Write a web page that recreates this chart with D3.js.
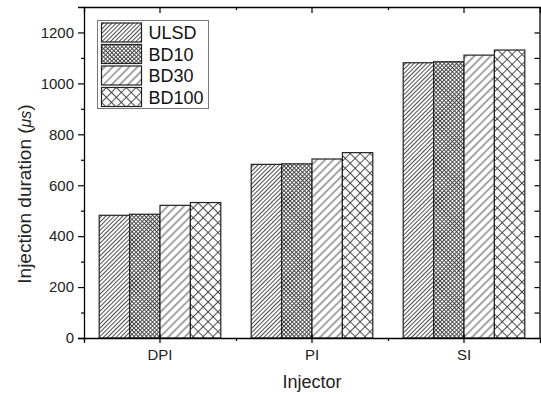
<!DOCTYPE html>
<html>
<head>
<meta charset="utf-8">
<script src="https://cdn.jsdelivr.net/npm/d3@7/dist/d3.min.js"></script>
<style>
  html, body { margin: 0; padding: 0; background: #fff; }
  svg { display: block; font-family: "Liberation Sans", Arial, sans-serif; }
</style>
</head>
<body>
<svg id="chart" width="541" height="395"></svg>
<script>
// Injection duration per injector type and fuel blend
const injectors = ["DPI", "PI", "SI"];
const fuels = ["ULSD", "BD10", "BD30", "BD100"];
const ulsd  = [482, 682, 1081];
const bd10  = [486, 684, 1085];
const bd30  = [521, 703, 1111];
const bd100 = [532, 728, 1131];
const yTicks = [0, 200, 400, 600, 800, 1000, 1200];
const yMinorTicks = [100, 300, 500, 700, 900, 1100];

const seriesValues = [ulsd, bd10, bd30, bd100];
const rows = injectors.map((inj, i) => ({
  injector: inj,
  values: fuels.map((f, k) => ({ fuel: f, value: seriesValues[k][i] }))
}));

const svg = d3.select("#chart");
const margin = { left: 84, right: 1, top: 7, bottom: 57 };
const W = 541, H = 395;
const x0 = margin.left, x1 = W - margin.right;
const yBase = H - margin.bottom, yTop = margin.top;

// Hatch fills, one per fuel
const defs = svg.append("defs");
function hatch(id, period, crossed) {
  const p = defs.append("pattern")
    .attr("id", id)
    .attr("patternUnits", "userSpaceOnUse")
    .attr("width", period).attr("height", period)
    .attr("patternTransform", "rotate(45)");
  p.append("rect").attr("width", period).attr("height", period).attr("fill", "#fff");
  p.append("line").attr("x1", period / 2).attr("x2", period / 2)
    .attr("y1", 0).attr("y2", period)
    .attr("stroke", "#3a3a3a").attr("stroke-width", 0.9);
  if (crossed) {
    p.append("line").attr("y1", period / 2).attr("y2", period / 2)
      .attr("x1", 0).attr("x2", period)
      .attr("stroke", "#3a3a3a").attr("stroke-width", 0.9);
  }
}
hatch("fill-ULSD", 3.0, false);
hatch("fill-BD10", 2.9, true);
hatch("fill-BD30", 5.8, false);
hatch("fill-BD100", 7.0, true);

const x = d3.scaleBand().domain(injectors).range([x0, x1])
  .paddingInner(0.2).paddingOuter(0.1);
const xs = d3.scaleBand().domain(fuels).range([0, x.bandwidth()]);
const xl = d3.scaleLinear().domain([0.5, injectors.length + 0.5]).range([x0, x1]);
const y = d3.scaleLinear().domain([0, 1300]).range([yBase, yTop]);

// Bars
const groups = svg.append("g").selectAll("g").data(rows).join("g")
  .attr("transform", d => `translate(${x(d.injector)},0)`);
groups.selectAll("rect").data(d => d.values).join("rect")
  .attr("x", d => xs(d.fuel))
  .attr("width", xs.bandwidth())
  .attr("y", d => y(d.value))
  .attr("height", d => y(0) - y(d.value))
  .attr("fill", d => `url(#fill-${d.fuel})`)
  .attr("stroke", "#222").attr("stroke-width", 1.2);

// Axes
const axisStyle = g => {
  g.selectAll(".domain").attr("stroke", "#000").attr("stroke-width", 1.3);
  g.selectAll(".tick line").attr("stroke", "#000").attr("stroke-width", 1.2);
  g.selectAll(".tick text").attr("fill", "#222").style("font-size", "15px")
    .style("font-family", "'Liberation Sans', Arial, sans-serif");
};
const minorPos = [1.5, 2.5];

// left
svg.append("g").attr("transform", `translate(${x0},0)`)
  .call(d3.axisLeft(y).tickValues(yTicks).tickSize(6).tickPadding(4).tickFormat(d3.format("d")))
  .call(axisStyle);
svg.append("g").attr("transform", `translate(${x0},0)`)
  .call(d3.axisLeft(y).tickValues(yMinorTicks).tickSize(3).tickFormat(""))
  .call(g => g.select(".domain").remove()).call(axisStyle);
// right
svg.append("g").attr("transform", `translate(${x1 - 0.5},0)`)
  .call(d3.axisLeft(y).tickValues(yTicks).tickSize(-0).tickFormat(""))
  .call(axisStyle);
svg.append("g").attr("transform", `translate(${x1 - 0.5},0)`)
  .call(d3.axisRight(y).tickValues(yTicks.concat(yMinorTicks)).tickSize(-5).tickFormat(""))
  .call(g => g.select(".domain").remove()).call(axisStyle);
// bottom
svg.append("g").attr("transform", `translate(0,${yBase})`)
  .call(d3.axisBottom(x).tickSize(5).tickPadding(6))
  .call(axisStyle);
svg.append("g").attr("transform", `translate(0,${yBase})`)
  .call(d3.axisTop(x).tickSize(4).tickFormat(""))
  .call(g => g.select(".domain").remove()).call(axisStyle);
svg.append("g").attr("transform", `translate(0,${yBase})`)
  .call(d3.axisBottom(xl).tickValues([0.5].concat(minorPos)).tickSize(3).tickFormat(""))
  .call(g => g.select(".domain").remove()).call(axisStyle);
// top
svg.append("g").attr("transform", `translate(0,${yTop})`)
  .call(d3.axisTop(x).tickSize(-6).tickFormat(""))
  .call(axisStyle);
svg.append("g").attr("transform", `translate(0,${yTop})`)
  .call(d3.axisTop(xl).tickValues(minorPos).tickSize(-3).tickFormat(""))
  .call(g => g.select(".domain").remove()).call(axisStyle);

// Axis titles
const yTitle = svg.append("text")
  .attr("transform", "translate(31,194) rotate(-90)")
  .attr("text-anchor", "middle")
  .style("font-size", "19px").attr("fill", "#222");
yTitle.append("tspan").text("Injection duration (");
yTitle.append("tspan").style("font-style", "italic").style("font-size", "16px").text("μs");
yTitle.append("tspan").text(")");

svg.append("text")
  .attr("x", (x0 + x1) / 2).attr("y", 388)
  .attr("text-anchor", "middle")
  .style("font-size", "18px").attr("fill", "#222")
  .text("Injector");

// Legend
const lg = svg.append("g").attr("transform", "translate(97.5,20.5)");
lg.append("rect").attr("width", 111).attr("height", 88)
  .attr("fill", "#fff").attr("stroke", "#777").attr("stroke-width", 1);
const item = lg.selectAll("g.item").data(fuels).join("g").attr("class", "item")
  .attr("transform", (d, i) => `translate(4,${2.5 + i * 21.5})`);
item.append("rect").attr("width", 40).attr("height", 19)
  .attr("fill", d => `url(#fill-${d})`)
  .attr("stroke", "#222").attr("stroke-width", 1.2);
item.append("text").attr("x", 47).attr("y", 16)
  .style("font-size", "18px").attr("fill", "#111")
  .text(d => d);
</script>
</body>
</html>
